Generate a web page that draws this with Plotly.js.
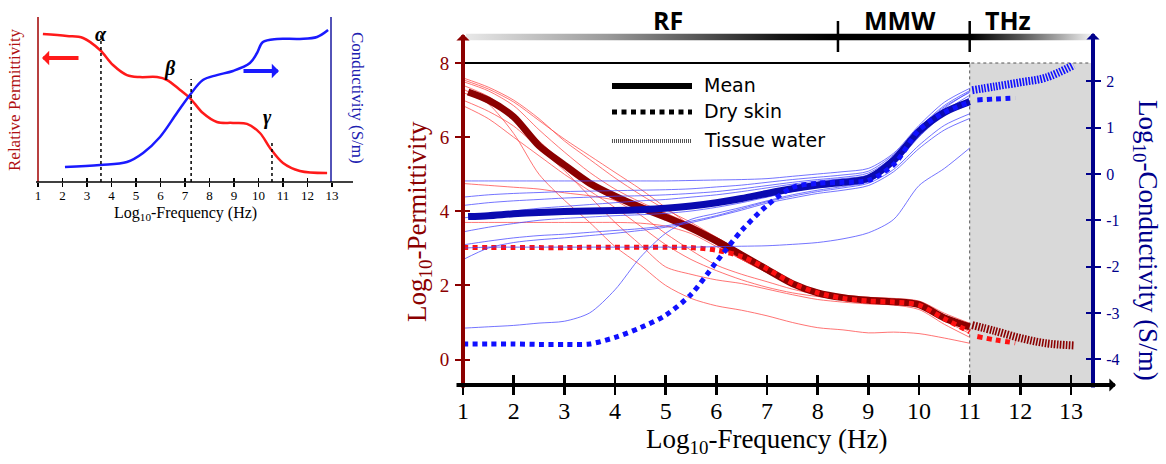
<!DOCTYPE html>
<html>
<head>
<meta charset="utf-8">
<script src="https://cdn.plot.ly/plotly-3.0.1.min.js"></script>
<style>
  html, body { margin: 0; padding: 0; background: #fff; }
  #chart { width: 1166px; height: 464px; }
</style>
</head>
<body>
<div id="chart"></div>
<script>
// ---- Data: log10 frequency (Hz) vs log10 permittivity / log10 conductivity (S/m) ----
const freq = [1, 1.5, 2, 2.5, 3, 3.5, 4, 4.5, 5, 5.5, 6, 6.5, 7, 7.5, 8, 8.5, 9, 9.5, 10, 10.5, 11];
const meanFreq = [1.1, 1.5, 2, 2.5, 3, 3.5, 4, 4.5, 5, 5.5, 6, 6.5, 7, 7.5, 8, 8.5, 9, 9.5, 10, 10.5, 11];

const permMean = [7.22, 7.0, 6.55, 5.77, 5.25, 4.76, 4.41, 4.11, 3.84, 3.55, 3.2, 2.82, 2.43, 2.05, 1.8, 1.67, 1.6, 1.56, 1.48, 1.12, 0.88];
const condMean = [-0.92, -0.9, -0.86, -0.83, -0.81, -0.8, -0.79, -0.77, -0.74, -0.69, -0.62, -0.53, -0.42, -0.32, -0.24, -0.18, -0.09, 0.3, 0.92, 1.33, 1.56];

const drySkinPerm = [3.02, 3.02, 3.02, 3.02, 3.02, 3.03, 3.03, 3.03, 3.03, 3.02, 2.95, 2.78, 2.45, 2.06, 1.8, 1.65, 1.58, 1.55, 1.47, 1.1, 0.75];
const drySkinCond = [-3.67, -3.67, -3.67, -3.68, -3.68, -3.67, -3.53, -3.32, -3.05, -2.6, -1.9, -1.22, -0.68, -0.29, -0.2, -0.18, -0.14, 0.2, 0.95, 1.33, 1.55];

const thzFreqDry = [11.15, 11.5, 11.9];
const drySkinPermTHz = [0.62, 0.53, 0.45];
const drySkinCondTHz = [1.6, 1.62, 1.64];

const thzFreqWater = [11.05, 11.5, 12, 12.5, 13.05];
const waterPerm = [0.93, 0.77, 0.58, 0.44, 0.38];
const waterCond = [1.81, 1.89, 1.98, 2.08, 2.35];

// individual tissue samples, sampled on `freq`
const permSamples = [
  [7.6, 7.35, 7.0, 6.5, 5.9, 5.4, 4.9, 4.45, 4.05, 3.7, 3.3, 2.9, 2.5, 2.1, 1.85, 1.72, 1.66, 1.62, 1.55, 1.2, 0.95],
  [7.5, 7.25, 6.85, 6.2, 5.6, 5.05, 4.6, 4.25, 3.95, 3.65, 3.3, 2.9, 2.45, 2.05, 1.82, 1.7, 1.63, 1.6, 1.53, 1.18, 0.9],
  [7.4, 7.1, 6.6, 5.9, 5.3, 4.8, 4.45, 4.2, 3.95, 3.6, 3.15, 2.7, 2.35, 2.0, 1.78, 1.68, 1.62, 1.58, 1.5, 1.15, 0.87],
  [7.3, 6.9, 6.1, 5.0, 4.3, 3.7, 3.05, 2.55, 2.0, 1.65, 1.45, 1.33, 1.18, 1.0, 0.86, 0.8, 0.72, 0.74, 0.7, 0.58, 0.44],
  [7.0, 6.7, 6.3, 5.7, 5.1, 4.4, 3.7, 3.1, 2.5, 2.3, 2.15, 2.05, 1.9, 1.75, 1.62, 1.55, 1.5, 1.47, 1.35, 0.95, 0.6],
  [6.85, 6.5, 6.0, 5.5, 5.0, 4.55, 4.1, 3.6, 3.1, 2.7, 2.4, 2.15, 1.95, 1.8, 1.7, 1.63, 1.58, 1.55, 1.47, 1.1, 0.75],
  [4.75, 4.7, 4.65, 4.6, 4.5, 4.42, 4.3, 4.1, 3.9, 3.6, 3.2, 2.8, 2.4, 2.05, 1.83, 1.7, 1.63, 1.6, 1.53, 1.2, 0.92],
  [3.7, 3.7, 3.7, 3.7, 3.7, 3.7, 3.7, 3.68, 3.6, 3.4, 3.05, 2.7, 2.35, 2.0, 1.8, 1.69, 1.63, 1.6, 1.52, 1.17, 0.88],
  [7.55, 7.3, 6.95, 6.45, 5.95, 5.5, 5.05, 4.6, 4.1, 3.6, 3.1, 2.7, 2.35, 2.05, 1.85, 1.74, 1.68, 1.65, 1.58, 1.25, 0.98],
  [7.2, 6.95, 6.5, 5.85, 5.2, 4.7, 4.3, 3.9, 3.4, 2.95, 2.55, 2.3, 2.1, 1.9, 1.75, 1.62, 1.57, 1.52, 1.42, 1.05, 0.7]
];
const condSamples = [
  [-0.15, -0.15, -0.15, -0.15, -0.15, -0.15, -0.15, -0.15, -0.15, -0.14, -0.13, -0.12, -0.1, -0.05, 0.0, 0.05, 0.12, 0.45, 1.05, 1.55, 1.85],
  [-0.5, -0.45, -0.42, -0.4, -0.38, -0.37, -0.36, -0.35, -0.34, -0.32, -0.28, -0.24, -0.18, -0.12, -0.07, -0.02, 0.06, 0.42, 1.0, 1.48, 1.8],
  [-0.68, -0.62, -0.58, -0.55, -0.52, -0.5, -0.48, -0.47, -0.45, -0.42, -0.38, -0.32, -0.25, -0.18, -0.12, -0.07, 0.02, 0.38, 0.98, 1.45, 1.76],
  [-1.25, -1.15, -1.07, -1.0, -0.96, -0.93, -0.9, -0.88, -0.85, -0.8, -0.72, -0.62, -0.5, -0.38, -0.28, -0.2, -0.1, 0.25, 0.85, 1.35, 1.7],
  [-1.53, -1.45, -1.38, -1.33, -1.3, -1.26, -1.22, -1.18, -1.12, -1.02, -0.9, -0.75, -0.6, -0.48, -0.38, -0.3, -0.2, 0.1, 0.62, 1.05, 1.3],
  [-1.85, -1.6, -1.48, -1.42, -1.38, -1.33, -1.28, -1.22, -1.15, -1.05, -0.92, -0.78, -0.63, -0.52, -0.42, -0.35, -0.25, 0.05, 0.55, 0.95, 1.2],
  [-1.6, -1.58, -1.58, -1.58, -1.58, -1.58, -1.58, -1.58, -1.58, -1.58, -1.57, -1.56, -1.55, -1.52, -1.48, -1.4, -1.27, -0.98, -0.25, 0.12, 0.56],
  [-3.33, -3.3, -3.27, -3.22, -3.18, -3.0, -2.5, -1.8, -1.28, -0.98, -0.85, -0.72, -0.58, -0.45, -0.35, -0.27, -0.17, 0.2, 0.8, 1.3, 1.65],
  [-0.95, -0.88, -0.8, -0.74, -0.7, -0.66, -0.62, -0.58, -0.55, -0.5, -0.45, -0.38, -0.3, -0.22, -0.15, -0.1, -0.02, 0.35, 0.95, 1.42, 1.78]
];

// ---- Schematic inset: dispersion regions (normalized heights) ----
const insetPermFreq = [1.2, 2.18, 2.84, 3.53, 4.06, 4.63, 5.16, 5.86, 6.27, 6.8, 7.2, 7.73, 8.3, 8.96, 9.53, 10.06, 10.47, 11.0, 11.69, 12.8];
const insetPerm = [0.897, 0.885, 0.873, 0.8, 0.709, 0.648, 0.636, 0.636, 0.618, 0.558, 0.509, 0.418, 0.364, 0.358, 0.352, 0.297, 0.206, 0.115, 0.067, 0.055];
const insetCondFreq = [2.1, 3.53, 4.63, 5.29, 5.98, 6.67, 7.2, 7.73, 8.3, 8.96, 9.65, 9.94, 10.18, 10.76, 11.69, 12.39, 12.84];
const insetCond = [0.091, 0.103, 0.121, 0.176, 0.273, 0.418, 0.527, 0.618, 0.648, 0.673, 0.721, 0.782, 0.848, 0.867, 0.867, 0.879, 0.921];
const relaxFreq = [3.57, 7.25, 10.55];
const relaxTop = [0.89, 0.624, 0.255];
const relaxNames = ['α', 'β', 'γ'];

// ---- Axis ticks and band labels ----
const freqTicks = [1, 2, 3, 4, 5, 6, 7, 8, 9, 10, 11, 12, 13];
const permTicks = [0, 2, 4, 6, 8];
const condTicks = [-4, -3, -2, -1, 0, 1, 2];
const condTickText = ['-4', '-3', '-2', '-1', '0', '1', '2'];
const bandNames = ['RF', 'MMW', 'THz'];
const bandCenters = [5.05, 9.62, 11.76];
const bandEdges = [8.4, 11];
const thzStart = 11;

// ---- Geometry (figure pixels) ----
const W = 1166, H = 464;
const px = v => v / W;
const py = v => (H - v) / H;
const plotL = 463, plotR = 1093, plotT = 63, plotB = 385;
const xRange = [1, 1 + (plotR - plotL) / 50.67];
const permRange = [-0.687, 8.002];
const condRange = [-4.557, 2.397];

const serif = 'Liberation Serif, Times New Roman, serif';
const DARKRED = '#8b0000', NAVY = '#00008b';

const traces = [];

// gradient band above the plot
traces.push({
  x: [1.06, xRange[1], xRange[1], 1.06], y: [0, 0, 1, 1],
  xaxis: 'x', yaxis: 'y4', mode: 'lines', fill: 'toself', line: {width: 0},
  fillgradient: {type: 'horizontal', colorscale: [
    [0, '#e8e8e8'], [0.225, '#9a9a9a'], [0.373, '#555555'], [0.5, '#161616'],
    [0.58, '#000000'], [0.807, '#000000'], [0.884, '#555555'], [0.947, '#a8a8a8'], [1, '#f4f4f4']]},
  hoverinfo: 'skip'
});

// thin sample curves
permSamples.forEach(s => traces.push({
  x: freq, y: s, xaxis: 'x', yaxis: 'y', mode: 'lines',
  line: {color: 'rgba(255,70,70,0.75)', width: 1, shape: 'spline', smoothing: 0.8}
}));
condSamples.forEach(s => traces.push({
  x: freq, y: s, xaxis: 'x', yaxis: 'y2', mode: 'lines',
  line: {color: 'rgba(70,70,255,0.75)', width: 1, shape: 'spline', smoothing: 0.8}
}));

// mean curves
traces.push({x: meanFreq, y: permMean, xaxis: 'x', yaxis: 'y', mode: 'lines',
  line: {color: '#8b0000', width: 7, shape: 'spline', smoothing: 0.8}});
traces.push({x: meanFreq, y: condMean, xaxis: 'x', yaxis: 'y2', mode: 'lines',
  line: {color: '#0a0ab0', width: 7, shape: 'spline', smoothing: 0.8}});

// dry skin
traces.push({x: freq, y: drySkinPerm, xaxis: 'x', yaxis: 'y', mode: 'lines',
  line: {color: '#ff1010', width: 5, dash: '5px,4.5px', shape: 'spline', smoothing: 0.8}});
traces.push({x: freq, y: drySkinCond, xaxis: 'x', yaxis: 'y2', mode: 'lines',
  line: {color: '#1010ff', width: 5, dash: '5px,4.5px', shape: 'spline', smoothing: 0.8}});
traces.push({x: thzFreqDry, y: drySkinPermTHz, xaxis: 'x', yaxis: 'y', mode: 'lines',
  line: {color: '#ff1010', width: 5, dash: '5px,4.5px', shape: 'spline'}});
traces.push({x: thzFreqDry, y: drySkinCondTHz, xaxis: 'x', yaxis: 'y2', mode: 'lines',
  line: {color: '#1010ff', width: 5, dash: '5px,4.5px', shape: 'spline'}});

// tissue water (THz)
traces.push({x: thzFreqWater, y: waterPerm, xaxis: 'x', yaxis: 'y', mode: 'lines',
  line: {color: '#8b0000', width: 8, dash: '1.6px,1.4px', shape: 'spline'}});
traces.push({x: thzFreqWater, y: waterCond, xaxis: 'x', yaxis: 'y2', mode: 'lines',
  line: {color: '#1010ff', width: 8, dash: '1.6px,1.4px', shape: 'spline'}});

// inset curves
traces.push({x: insetPermFreq, y: insetPerm, xaxis: 'x3', yaxis: 'y3', mode: 'lines',
  line: {color: '#ff1a1a', width: 2.5, shape: 'spline', smoothing: 1}});
traces.push({x: insetCondFreq, y: insetCond, xaxis: 'x3', yaxis: 'y3', mode: 'lines',
  line: {color: '#1a1aff', width: 2.5, shape: 'spline', smoothing: 1}});

// empty traces registering the overlay axes that carry the inward half of each tick
traces.push({x: [], y: [], xaxis: 'x5', yaxis: 'y', mode: 'lines'});
traces.push({x: [], y: [], xaxis: 'x', yaxis: 'y5', mode: 'lines'});
traces.push({x: [], y: [], xaxis: 'x', yaxis: 'y6', mode: 'lines'});
traces.push({x: [], y: [], xaxis: 'x6', yaxis: 'y3', mode: 'lines'});

// ---- Shapes ----
const shapes = [];
// THz shaded region
shapes.push({type: 'rect', xref: 'x', yref: 'paper', x0: thzStart, x1: xRange[1], y0: py(plotB), y1: py(plotT),
  fillcolor: '#d9d9d9', line: {color: '#555', width: 1, dash: 'dot'}, layer: 'below'});
// top frame line
shapes.push({type: 'line', xref: 'x', yref: 'paper', x0: xRange[0], x1: thzStart, y0: py(plotT), y1: py(plotT),
  line: {color: '#000', width: 2}});
// band boundary ticks
bandEdges.forEach(e => shapes.push({type: 'line', xref: 'x', yref: 'paper', x0: e, x1: e, y0: py(52), y1: py(21),
  line: {color: '#000', width: 2.5}}));
// legend samples
shapes.push({type: 'line', xref: 'paper', yref: 'paper', x0: px(612), x1: px(692), y0: py(86), y1: py(86), line: {color: '#000', width: 6}});
shapes.push({type: 'line', xref: 'paper', yref: 'paper', x0: px(612), x1: px(692), y0: py(112), y1: py(112), line: {color: '#000', width: 5, dash: '5px,4.5px'}});
shapes.push({type: 'line', xref: 'paper', yref: 'paper', x0: px(612), x1: px(692), y0: py(141), y1: py(141), line: {color: '#555', width: 4, dash: '1px,1px'}});
// inset frame
shapes.push({type: 'line', xref: 'paper', yref: 'paper', x0: px(38), x1: px(38), y0: py(182), y1: py(17), line: {color: '#a00000', width: 1.5}});
shapes.push({type: 'line', xref: 'paper', yref: 'paper', x0: px(331), x1: px(331), y0: py(182), y1: py(17), line: {color: '#1a1aa0', width: 1.5}});
shapes.push({type: 'line', xref: 'paper', yref: 'paper', x0: px(36), x1: px(353), y0: py(182), y1: py(182), line: {color: '#000', width: 1.5}});
// inset relaxation markers
relaxFreq.forEach((f, i) => shapes.push({type: 'line', xref: 'x3', yref: 'y3', x0: f, x1: f, y0: 0, y1: relaxTop[i],
  line: {color: '#000', width: 1.5, dash: 'dot'}}));

// ---- Annotations ----
const ann = [];
// axis lines with arrowheads (head at x,y; tail offset in pixels)
const arrow = (hx, hy, tx, ty, color, width, size) => ({
  xref: 'paper', yref: 'paper', x: px(hx), y: py(hy), ax: tx - hx, ay: ty - hy, axref: 'pixel', ayref: 'pixel',
  text: '', showarrow: true, arrowhead: 1, arrowsize: size, arrowwidth: width, arrowcolor: color, standoff: 0
});
ann.push(arrow(463, 34, 463, 389, DARKRED, 4, 0.55));
ann.push(arrow(1093, 33, 1093, 389, NAVY, 4, 0.55));
ann.push(arrow(1116, 385, 455, 385, '#000', 4, 0.55));
ann.push(arrow(42, 58, 80, 58, '#ff1a1a', 4, 0.6));
ann.push(arrow(279, 71, 242, 71, '#1a1aff', 4, 0.6));

// band labels
bandNames.forEach((n, i) => ann.push({xref: 'x', yref: 'paper', x: bandCenters[i], y: py(20), text: '<b>' + n + '</b>',
  showarrow: false, xanchor: 'center', yanchor: 'middle', font: {family: 'Open Sans, sans-serif', size: 25, color: '#000'}}));
// legend labels
[['Mean', 85], ['Dry skin', 111], ['Tissue water', 140]].forEach(([t, y]) => ann.push({
  xref: 'paper', yref: 'paper', x: px(702), y: py(y), text: t, showarrow: false, xanchor: 'left', yanchor: 'middle',
  font: {family: 'DejaVu Sans, Verdana, sans-serif', size: 19, color: '#000'}}));
// axis titles
ann.push({xref: 'paper', yref: 'paper', x: px(767), y: py(441), text: 'Log<sub>10</sub>-Frequency (Hz)', showarrow: false,
  xanchor: 'center', yanchor: 'middle', font: {family: serif, size: 27, color: '#000'}});
ann.push({xref: 'paper', yref: 'paper', x: px(419), y: py(222), text: 'Log<sub>10</sub>-Permittivity', showarrow: false,
  textangle: -90, xanchor: 'center', yanchor: 'middle', font: {family: serif, size: 27, color: DARKRED}});
ann.push({xref: 'paper', yref: 'paper', x: px(1146), y: py(240), text: 'Log<sub>10</sub>-Conductivity (S/m)', showarrow: false,
  textangle: 90, xanchor: 'center', yanchor: 'middle', font: {family: serif, size: 27, color: NAVY}});
// inset titles
ann.push({xref: 'paper', yref: 'paper', x: px(185), y: py(213), text: 'Log<sub>10</sub>-Frequency (Hz)', showarrow: false,
  xanchor: 'center', yanchor: 'middle', font: {family: serif, size: 16, color: '#000'}});
ann.push({xref: 'paper', yref: 'paper', x: px(14), y: py(100), text: 'Relative Permittivity', showarrow: false,
  textangle: -90, xanchor: 'center', yanchor: 'middle', font: {family: serif, size: 17, color: '#b01010'}});
ann.push({xref: 'paper', yref: 'paper', x: px(357), y: py(98), text: 'Conductivity (S/m)', showarrow: false,
  textangle: 90, xanchor: 'center', yanchor: 'middle', font: {family: serif, size: 17, color: '#2020b0'}});
// relaxation labels
const relaxLabelPos = [[101, 34], [170, 68], [267, 117]];
relaxNames.forEach((n, i) => ann.push({xref: 'paper', yref: 'paper', x: px(relaxLabelPos[i][0]), y: py(relaxLabelPos[i][1]),
  text: '<b><i>' + n + '</i></b>', showarrow: false, xanchor: 'center', yanchor: 'middle',
  font: {family: serif, size: 20, color: '#000'}}));

const noGrid = {showgrid: false, zeroline: false, showline: false};
const layout = {
  width: W, height: H,
  margin: {l: 0, r: 0, t: 0, b: 0, pad: 0, autoexpand: false},
  paper_bgcolor: '#fff', plot_bgcolor: 'rgba(0,0,0,0)',
  showlegend: false,
  xaxis: Object.assign({domain: [px(plotL), px(plotR)], range: xRange, anchor: 'y', tickvals: freqTicks,
    ticks: 'outside', ticklen: 9, tickwidth: 2.5, tickcolor: '#000', ticklabelstandoff: -5,
    tickfont: {family: serif, size: 24, color: '#000'}}, noGrid),
  xaxis5: Object.assign({domain: [px(plotL), px(plotR)], range: xRange, anchor: 'y', overlaying: 'x', tickvals: freqTicks,
    ticks: 'inside', ticklen: 10, tickwidth: 2.5, tickcolor: '#000', showticklabels: false}, noGrid),
  yaxis: Object.assign({domain: [py(plotB), py(plotT)], range: permRange, anchor: 'x', tickvals: permTicks,
    ticks: 'outside', ticklen: 7, tickwidth: 2, tickcolor: DARKRED, ticklabelstandoff: 2,
    tickfont: {family: serif, size: 19, color: DARKRED}}, noGrid),
  yaxis5: Object.assign({domain: [py(plotB), py(plotT)], range: permRange, anchor: 'x', overlaying: 'y', tickvals: permTicks,
    ticks: 'inside', ticklen: 7, tickwidth: 2, tickcolor: DARKRED, showticklabels: false}, noGrid),
  yaxis2: Object.assign({overlaying: 'y', side: 'right', anchor: 'x', range: condRange, tickvals: condTicks, ticktext: condTickText,
    ticks: 'outside', ticklen: 7, tickwidth: 2, tickcolor: NAVY, ticklabelstandoff: 2,
    tickfont: {family: serif, size: 16, color: NAVY}}, noGrid),
  yaxis6: Object.assign({overlaying: 'y', side: 'right', anchor: 'x', range: condRange, tickvals: condTicks,
    ticks: 'inside', ticklen: 7, tickwidth: 2, tickcolor: NAVY, showticklabels: false}, noGrid),
  xaxis3: Object.assign({domain: [px(38), px(332)], range: [1, 13], anchor: 'y3', tickvals: freqTicks,
    ticks: 'outside', ticklen: 4, tickwidth: 1.2, tickcolor: '#000', ticklabelstandoff: -3,
    tickfont: {family: serif, size: 13, color: '#000'}}, noGrid),
  xaxis6: Object.assign({domain: [px(38), px(332)], range: [1, 13], anchor: 'y3', overlaying: 'x3', tickvals: freqTicks,
    ticks: 'inside', ticklen: 4, tickwidth: 1.2, tickcolor: '#000', showticklabels: false}, noGrid),
  yaxis3: {domain: [py(182), py(17)], range: [0, 1], anchor: 'x3', visible: false},
  yaxis4: {domain: [py(40.5), py(33.5)], range: [0, 1], anchor: 'x', visible: false},
  shapes: shapes,
  annotations: ann
};

Plotly.newPlot('chart', traces, layout, {staticPlot: true, displayModeBar: false});
</script>
</body>
</html>
